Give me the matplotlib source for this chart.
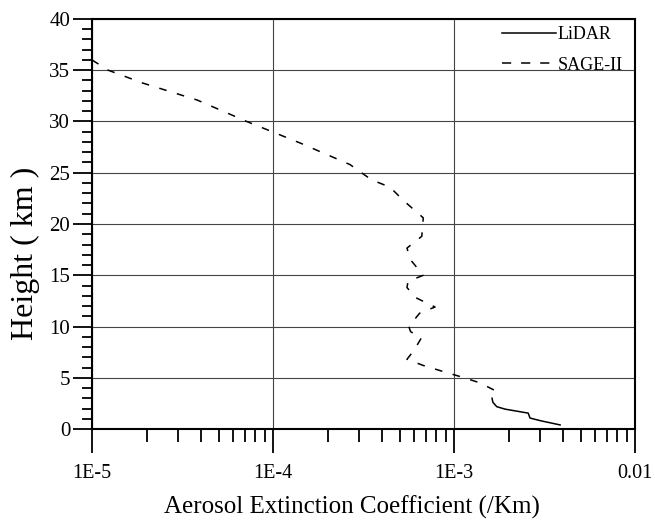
import numpy as np
import matplotlib
matplotlib.use("Agg")
import matplotlib.pyplot as plt
from matplotlib.lines import Line2D
from matplotlib.ticker import LogLocator, FixedLocator, MultipleLocator, NullFormatter

# SAGE-II profile (log10 extinction, height km)
sage_log = [-5.00, -4.91, -4.72, -4.42, -4.145, -3.85, -3.575, -3.455, -3.354, -3.28, -3.17,
            -3.178, -3.26, -3.24, -3.17, -3.254, -3.26, -3.21, -3.105, -3.19, -3.25, -3.24,
            -3.18, -3.22, -3.26, -3.17, -3.04, -2.957, -2.856, -2.746]
sage_h = [36.0, 35.0, 33.75, 32.1, 30.0, 27.9, 25.8, 24.3, 23.6, 22.3, 20.6,
          18.8, 17.65, 16.5, 15.0, 14.4, 13.8, 12.8, 11.9, 11.3, 10.0, 9.5,
          8.9, 7.7, 6.8, 6.2, 5.5, 5.07, 4.5, 3.5]
# LiDAR profile
lidar_log = [-2.79, -2.785, -2.764, -2.718, -2.59, -2.585, -2.58, -2.52, -2.414]
lidar_h = [3.0, 2.6, 2.18, 1.94, 1.55, 1.3, 1.07, 0.8, 0.4]

sage_x = 10.0 ** np.array(sage_log)
lidar_x = 10.0 ** np.array(lidar_log)

xticks = [1e-5, 1e-4, 1e-3, 1e-2]
xticklabels = ["1E-5", "1E-4", "1E-3", "0.01"]
yticks = [0, 5, 10, 15, 20, 25, 30, 35, 40]

plt.rcParams['font.family'] = ['Liberation Serif', 'DejaVu Serif']

fig = plt.figure(figsize=(6.55, 5.23), dpi=100)
ax = fig.add_axes([0.1405, 0.1797, 0.829, 0.784])
axw = 0.829 * 655
axh = 0.784 * 523

ax.plot(lidar_x, lidar_h, color='black', lw=1.1, label='LiDAR')
ax.plot(sage_x, sage_h, color='black', lw=1.1, dashes=(5, 7), label='SAGE-II')

ax.set_xscale('log')
ax.set_xlim(1e-5, 1e-2)
ax.set_ylim(0, 40)
ax.xaxis.set_major_locator(FixedLocator(xticks))
ax.set_xticklabels(xticklabels)
ax.xaxis.set_minor_locator(LogLocator(base=10, subs=np.arange(2, 10)))
ax.xaxis.set_minor_formatter(NullFormatter())
ax.yaxis.set_major_locator(FixedLocator(yticks))
ax.yaxis.set_minor_locator(MultipleLocator(1))

ax.tick_params(axis='y', which='major', direction='out', length=13.7, width=1.3, labelsize=15, pad=2)
ax.tick_params(axis='y', which='minor', direction='out', length=7.2, width=1.3)
ax.tick_params(axis='x', which='major', direction='out', length=17.5, width=1.3, labelsize=14.5, pad=7.5)
ax.tick_params(axis='x', which='minor', direction='out', length=9.4, width=1.3)

ax.grid(True, which='major', color='#444444', lw=0.8)
for s in ax.spines.values():
    s.set_linewidth(1.5)

ax.set_ylabel('Height ( km )', fontsize=23)
ax.set_xlabel('Aerosol Extinction Coefficient (/Km)', fontsize=18)
ax.yaxis.set_label_coords((40 - 92) / axw, (429 - 253) / axh)
ax.xaxis.set_label_coords((352 - 92) / axw, (429 - 496) / axh)

handles = [Line2D([], [], color='black', lw=1.1),
           Line2D([], [], color='black', lw=1.1, dashes=(6, 6.5))]
leg = ax.legend(handles, ['LiDAR', 'SAGE-II'], loc='upper right', frameon=False, fontsize=13,
                handlelength=3.0, handletextpad=0.1, borderaxespad=0.0, labelspacing=0.75,
                bbox_to_anchor=(1 - 5 / axw, 1.0))

fig.savefig('out.png', dpi=100)
